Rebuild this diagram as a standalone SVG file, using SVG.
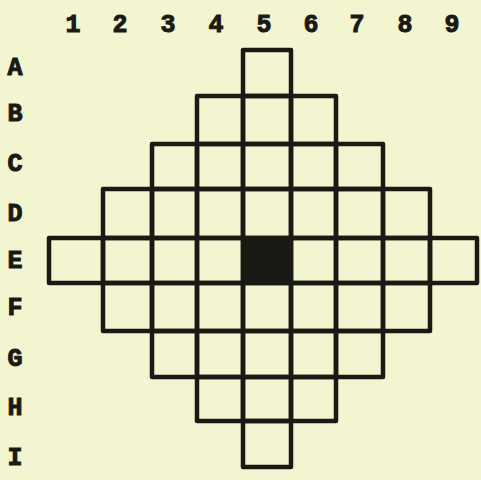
<svg xmlns="http://www.w3.org/2000/svg" width="481" height="480" viewBox="0 0 481 480">
<style>
.bg{fill:#f3f4d0}
.cell{fill:none;stroke:#1a1a14;stroke-width:4.5;stroke-linejoin:round}
.dark{fill:#1a1a14}
.lbl{font-family:"Liberation Mono","Courier New",monospace;font-weight:bold;font-size:25px;fill:#1a1a14;stroke:#1a1a14;stroke-width:1;text-anchor:middle}
</style>
<rect class="bg" x="0" y="0" width="481" height="480"/>
<g id="col-labels">
<text class="lbl" x="73" y="32">1</text>
<text class="lbl" x="120" y="32">2</text>
<text class="lbl" x="168" y="32">3</text>
<text class="lbl" x="216" y="32">4</text>
<text class="lbl" x="264" y="32">5</text>
<text class="lbl" x="311" y="32">6</text>
<text class="lbl" x="357" y="32">7</text>
<text class="lbl" x="405" y="32">8</text>
<text class="lbl" x="452" y="32">9</text>
</g>
<g id="row-labels">
<text class="lbl" x="15" y="75">A</text>
<text class="lbl" x="15" y="121">B</text>
<text class="lbl" x="15" y="171">C</text>
<text class="lbl" x="15" y="221">D</text>
<text class="lbl" x="15" y="268">E</text>
<text class="lbl" x="15" y="315">F</text>
<text class="lbl" x="15" y="366">G</text>
<text class="lbl" x="15" y="415">H</text>
<text class="lbl" x="15" y="465">I</text>
</g>
<g id="cells">
<g id="A5"><rect class="cell" x="243" y="50" width="48" height="46"/></g>
<g id="B4"><rect class="cell" x="197" y="96" width="46" height="48"/></g>
<g id="B5"><rect class="cell" x="243" y="96" width="48" height="48"/></g>
<g id="B6"><rect class="cell" x="291" y="96" width="45" height="48"/></g>
<g id="C3"><rect class="cell" x="152" y="144" width="45" height="45"/></g>
<g id="C4"><rect class="cell" x="197" y="144" width="46" height="45"/></g>
<g id="C5"><rect class="cell" x="243" y="144" width="48" height="45"/></g>
<g id="C6"><rect class="cell" x="291" y="144" width="45" height="45"/></g>
<g id="C7"><rect class="cell" x="336" y="144" width="47" height="45"/></g>
<g id="D2"><rect class="cell" x="103" y="189" width="49" height="49"/></g>
<g id="D3"><rect class="cell" x="152" y="189" width="45" height="49"/></g>
<g id="D4"><rect class="cell" x="197" y="189" width="46" height="49"/></g>
<g id="D5"><rect class="cell" x="243" y="189" width="48" height="49"/></g>
<g id="D6"><rect class="cell" x="291" y="189" width="45" height="49"/></g>
<g id="D7"><rect class="cell" x="336" y="189" width="47" height="49"/></g>
<g id="D8"><rect class="cell" x="383" y="189" width="47" height="49"/></g>
<g id="E1"><rect class="cell" x="49" y="238" width="54" height="45"/></g>
<g id="E2"><rect class="cell" x="103" y="238" width="49" height="45"/></g>
<g id="E3"><rect class="cell" x="152" y="238" width="45" height="45"/></g>
<g id="E4"><rect class="cell" x="197" y="238" width="46" height="45"/></g>
<g id="E5"><rect class="cell dark" x="243" y="238" width="48" height="45"/></g>
<g id="E6"><rect class="cell" x="291" y="238" width="45" height="45"/></g>
<g id="E7"><rect class="cell" x="336" y="238" width="47" height="45"/></g>
<g id="E8"><rect class="cell" x="383" y="238" width="47" height="45"/></g>
<g id="E9"><rect class="cell" x="430" y="238" width="47" height="45"/></g>
<g id="F2"><rect class="cell" x="103" y="283" width="49" height="48"/></g>
<g id="F3"><rect class="cell" x="152" y="283" width="45" height="48"/></g>
<g id="F4"><rect class="cell" x="197" y="283" width="46" height="48"/></g>
<g id="F5"><rect class="cell" x="243" y="283" width="48" height="48"/></g>
<g id="F6"><rect class="cell" x="291" y="283" width="45" height="48"/></g>
<g id="F7"><rect class="cell" x="336" y="283" width="47" height="48"/></g>
<g id="F8"><rect class="cell" x="383" y="283" width="47" height="48"/></g>
<g id="G3"><rect class="cell" x="152" y="331" width="45" height="46"/></g>
<g id="G4"><rect class="cell" x="197" y="331" width="46" height="46"/></g>
<g id="G5"><rect class="cell" x="243" y="331" width="48" height="46"/></g>
<g id="G6"><rect class="cell" x="291" y="331" width="45" height="46"/></g>
<g id="G7"><rect class="cell" x="336" y="331" width="47" height="46"/></g>
<g id="H4"><rect class="cell" x="197" y="377" width="46" height="44"/></g>
<g id="H5"><rect class="cell" x="243" y="377" width="48" height="44"/></g>
<g id="H6"><rect class="cell" x="291" y="377" width="45" height="44"/></g>
<g id="I5"><rect class="cell" x="243" y="421" width="48" height="46"/></g>
</g>
</svg>
